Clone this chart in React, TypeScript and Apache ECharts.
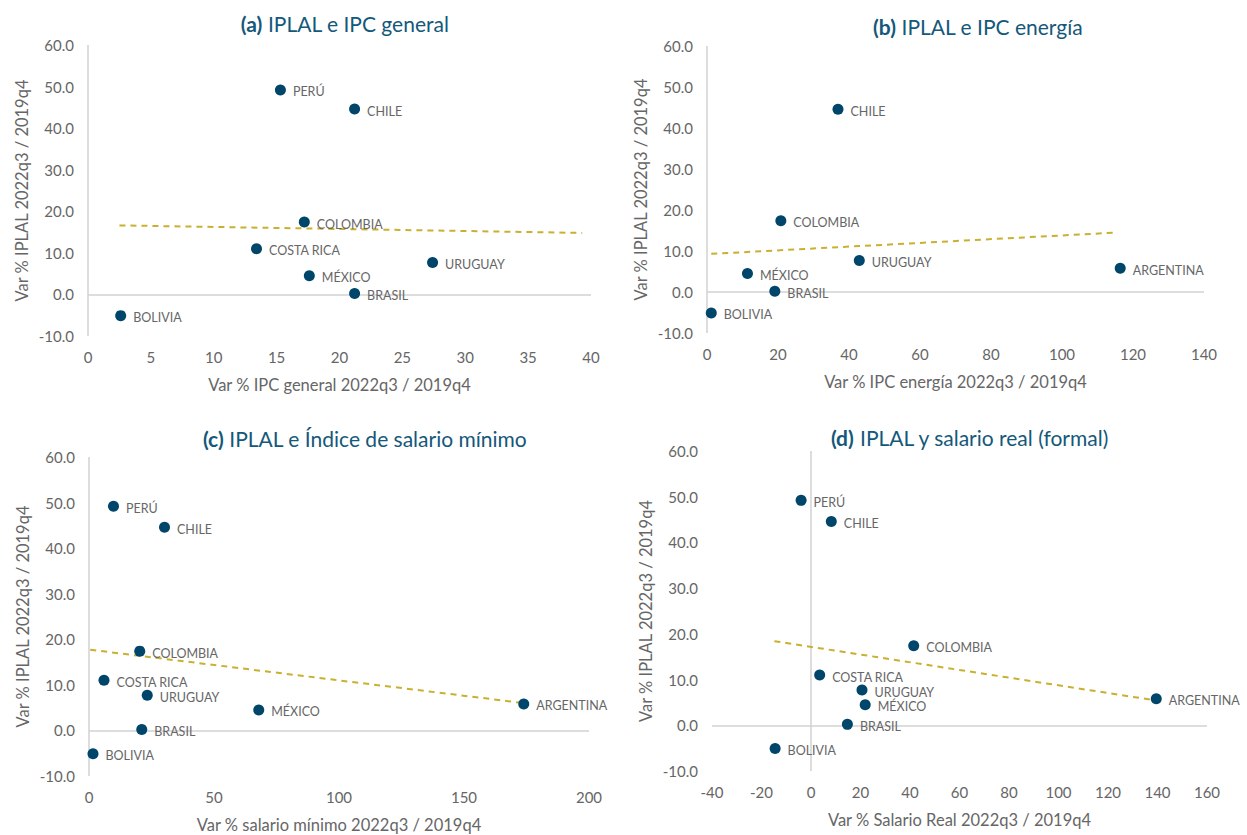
import React, { useEffect, useRef } from "react";
import * as echarts from "echarts";

// Shared y values (Var % IPLAL 2022q3 / 2019q4)
const iplal: Record<string, number> = {
  "PERÚ": 49.2,
  "CHILE": 44.6,
  "COLOMBIA": 17.4,
  "COSTA RICA": 11.0,
  "URUGUAY": 7.7,
  "MÉXICO": 4.5,
  "BRASIL": 0.2,
  "BOLIVIA": -5.1,
  "ARGENTINA": 5.8,
};

// Panel (a) IPC general
const namesA = ["PERÚ", "CHILE", "COLOMBIA", "COSTA RICA", "URUGUAY", "MÉXICO", "BRASIL", "BOLIVIA"];
const xA = [15.3, 21.2, 17.2, 13.4, 27.4, 17.6, 21.2, 2.6];
const trendA = [[2.5, 16.6], [39.3, 14.8]];

// Panel (b) IPC energía
const namesB = ["CHILE", "COLOMBIA", "URUGUAY", "MÉXICO", "BRASIL", "BOLIVIA", "ARGENTINA"];
const xB = [36.9, 20.8, 42.9, 11.4, 19.1, 1.2, 116.4];
const trendB = [[1.2, 9.3], [115.4, 14.5]];

// Panel (c) salario mínimo
const namesC = ["PERÚ", "CHILE", "COLOMBIA", "COSTA RICA", "URUGUAY", "MÉXICO", "BRASIL", "BOLIVIA", "ARGENTINA"];
const xC = [9.8, 30.2, 20.3, 6.0, 23.3, 67.9, 21.1, 1.6, 173.9];
const trendC = [[0.5, 17.7], [173.9, 6.0]];

// Panel (d) salario real
const namesD = ["PERÚ", "CHILE", "COLOMBIA", "COSTA RICA", "URUGUAY", "MÉXICO", "BRASIL", "BOLIVIA", "ARGENTINA"];
const xD = [-4.0, 8.2, 41.5, 3.5, 20.6, 21.9, 14.7, -14.5, 139.5];
const trendD = [[-14.8, 18.4], [138.5, 5.5]];

const titles = [
  ["(a)", "IPLAL e IPC general"],
  ["(b)", "IPLAL e IPC energía"],
  ["(c)", "IPLAL e Índice de salario mínimo"],
  ["(d)", "IPLAL y salario real (formal)"],
];
const xNames = [
  "Var % IPC general 2022q3 / 2019q4",
  "Var % IPC energía 2022q3 / 2019q4",
  "Var % salario mínimo 2022q3 / 2019q4",
  "Var % Salario Real 2022q3 / 2019q4",
];
const yName = "Var % IPLAL 2022q3 / 2019q4";
const xRanges = [
  [0, 40, 5],
  [0, 140, 20],
  [0, 200, 50],
  [-40, 160, 20],
];

const FONT = "Lato";
const DOT = "#00466a";
const TXT = "#666666";
const TITLE = "#14587a";
const TREND = "#c9b02f";
const ZERO = "#d2d2d2";

const grids = [
  { left: 88, top: 45, width: 503, height: 291 },
  { left: 707, top: 46, width: 497, height: 287 },
  { left: 89, top: 457, width: 500, height: 319 },
  { left: 712, top: 451, width: 495, height: 320 },
];
const titlePos = [
  { x: 340, y: 8 },
  { x: 973, y: 11 },
  { x: 360, y: 423 },
  { x: 965, y: 422 },
];

export default function App() {
  const ref = useRef<HTMLDivElement>(null);
  useEffect(() => {
    if (!ref.current) return;
    const chart = echarts.init(ref.current, null, { renderer: "svg" });
    const panels = [
      { names: namesA, xs: xA, trend: trendA },
      { names: namesB, xs: xB, trend: trendB },
      { names: namesC, xs: xC, trend: trendC },
      { names: namesD, xs: xD, trend: trendD },
    ];
    const series: any[] = [];
    panels.forEach((p, i) => {
      series.push({
        type: "line",
        xAxisIndex: i,
        yAxisIndex: i,
        data: p.trend,
        symbol: "none",
        lineStyle: { color: TREND, type: [6, 5], width: 2 },
        silent: true,
        z: 2,
      });
      series.push({
        type: "scatter",
        xAxisIndex: i,
        yAxisIndex: i,
        symbolSize: 11,
        itemStyle: { color: DOT, opacity: 1 },
        data: p.names.map((n, k) => ({ name: n, value: [p.xs[k], iplal[n]] })),
        label: {
          show: true,
          position: "right",
          distance: 7,
          formatter: "{b}",
          color: TXT,
          fontSize: 12.5,
          fontFamily: FONT,
          offset: [0, 2],
        },
        markLine: {
          silent: true,
          symbol: "none",
          label: { show: false },
          lineStyle: { color: ZERO, type: "solid", width: 1.5 },
          data: [{ xAxis: 0 }, { yAxis: 0 }],
          z: 1,
        },
        z: 3,
      });
    });
    chart.setOption({
      animation: false,
      textStyle: { fontFamily: FONT },
      title: titles.map((t, i) => ({
        text: `{b|${t[0]}} {n|${t[1]}}`,
        left: titlePos[i].x,
        top: titlePos[i].y,
        textAlign: "center",
        textStyle: {
          fontWeight: "normal",
          fontSize: 21,
          fontFamily: FONT,
          color: TITLE,
          rich: {
            b: { fontFamily: FONT, fontWeight: "bold", fontSize: 21, color: TITLE },
            n: { fontFamily: FONT, fontWeight: "normal", fontSize: 21, color: TITLE },
          },
        },
      })),
      grid: grids.map((g) => ({ ...g, containLabel: false })),
      xAxis: xRanges.map((r, i) => ({
        type: "value",
        gridIndex: i,
        min: r[0],
        max: r[1],
        interval: r[2],
        name: xNames[i],
        nameLocation: "middle",
        nameGap: 40,
        nameTextStyle: { color: TXT, fontSize: 16.5, fontFamily: FONT },
        axisLine: { show: false },
        axisTick: { show: false },
        splitLine: { show: false },
        axisLabel: { color: TXT, fontSize: 15, margin: 13, fontFamily: FONT },
      })),
      yAxis: grids.map((_, i) => ({
        type: "value",
        gridIndex: i,
        min: -10,
        max: 60,
        interval: 10,
        name: yName,
        nameLocation: "middle",
        nameGap: 58,
        nameTextStyle: { color: TXT, fontSize: 16.5, fontFamily: FONT },
        axisLine: { show: false },
        axisTick: { show: false },
        splitLine: { show: false },
        axisLabel: {
          color: TXT,
          fontSize: 15,
          margin: 14,
          fontFamily: FONT,
          formatter: (v: number) => v.toFixed(1),
        },
      })),
      series,
    });
    return () => chart.dispose();
  }, []);
  return (
    <div
      ref={ref}
      style={{ position: "fixed", left: 0, top: 0, width: 1247, height: 835, background: "#fff" }}
    />
  );
}
